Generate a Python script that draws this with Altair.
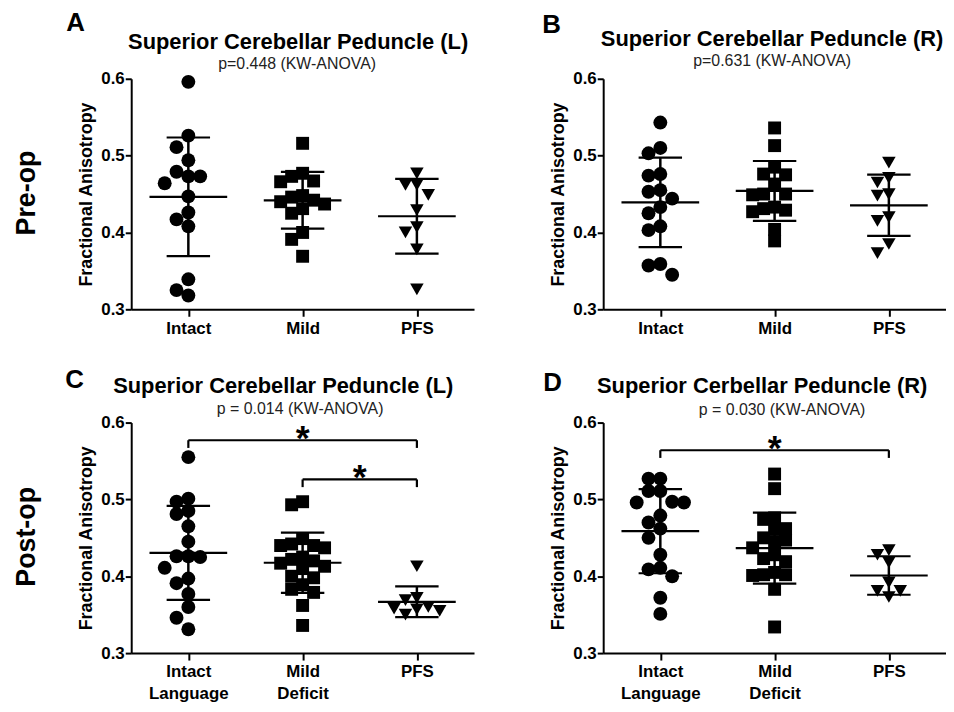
import json
import altair as alt
import pandas as pd

FONT = "Liberation Sans"

# ---------------- data ----------------
PRE_CATEGORIES = ["Intact", "Mild", "PFS"]
POST_CATEGORIES = ["Intact Language", "Mild Deficit", "PFS"]
ROW_LABELS = ["Pre-op", "Post-op"]

pre_L_intact = [0.596, 0.526, 0.511, 0.494, 0.479, 0.473, 0.473, 0.464, 0.447, 0.426, 0.417, 0.408, 0.339, 0.325, 0.318]
pre_L_mild = [0.516, 0.477, 0.473, 0.467, 0.466, 0.448, 0.446, 0.442, 0.440, 0.437, 0.431, 0.425, 0.400, 0.391, 0.369]
pre_L_pfs = [0.477, 0.462, 0.462, 0.449, 0.429, 0.407, 0.400, 0.378, 0.326]

pre_R_intact = [0.543, 0.510, 0.503, 0.476, 0.474, 0.455, 0.453, 0.444, 0.433, 0.425, 0.408, 0.403, 0.359, 0.357, 0.345]
pre_R_mild = [0.536, 0.513, 0.485, 0.476, 0.475, 0.463, 0.450, 0.450, 0.449, 0.433, 0.431, 0.429, 0.427, 0.404, 0.389]
pre_R_pfs = [0.491, 0.471, 0.465, 0.450, 0.448, 0.420, 0.415, 0.385, 0.373]

post_L_intact = [0.555, 0.501, 0.497, 0.485, 0.481, 0.465, 0.445, 0.426, 0.425, 0.426, 0.411, 0.397, 0.391, 0.377, 0.360, 0.346, 0.331]
post_L_mild = [0.497, 0.493, 0.449, 0.442, 0.440, 0.440, 0.437, 0.425, 0.422, 0.420, 0.417, 0.413, 0.410, 0.400, 0.398, 0.389, 0.383, 0.379, 0.362, 0.336]
post_L_pfs = [0.413, 0.372, 0.369, 0.360, 0.358, 0.357, 0.355, 0.350]

post_R_intact = [0.527, 0.527, 0.511, 0.511, 0.497, 0.496, 0.496, 0.479, 0.470, 0.462, 0.450, 0.428, 0.411, 0.409, 0.400, 0.372, 0.351]
post_R_mild = [0.533, 0.514, 0.476, 0.474, 0.462, 0.461, 0.450, 0.447, 0.445, 0.437, 0.428, 0.423, 0.419, 0.405, 0.402, 0.402, 0.401, 0.383, 0.334]
post_R_pfs = [0.434, 0.428, 0.418, 0.392, 0.381, 0.381, 0.373]

TITLES = ["Superior Cerebellar Peduncle (L)", "Superior Cerebellar Peduncle (R)",
          "Superior Cerebellar Peduncle (L)", "Superior Cerbellar Peduncle  (R)"]
SUBTITLES = ["p=0.448 (KW-ANOVA)", "p=0.631 (KW-ANOVA)",
             "p = 0.014 (KW-ANOVA)", "p = 0.030 (KW-ANOVA)"]
LETTERS = ["A", "B", "C", "D"]

# significance brackets: (from group, to group, FA level)
BRACKETS = [[], [], [(0, 2, 0.577), (1, 2, 0.526)], [(0, 2, 0.564)]]

# ---------------- layout / style ----------------
W, H = 345, 232
SHAPES = ["circle", "square", "triangle-down"]
SIZES = {"circle": 196, "square": 169, "triangle-down": 185}
DIAMS = {"circle": 14.0, "square": 13.0, "triangle-down": 13.5}
PX_X = W / 3.0
PX_Y = H / 0.3

# text placement relative to each plot area (pixels); letters use alphabetic baseline
LETTER_POS = [(-56, -48), (-52, -46), (-57, -35), (-51, -32)]
TITLE_POS = [(168, -37), (170, -40), (153, -37), (160, -37)]
SUB_POS = [(167, -15), (170, -18), (170, -14), (180, -13)]
ROW_POS = (-97, 115)


def swarm(values, diam):
    """Greedy beeswarm: horizontal offsets (in category units) limiting overlap."""
    step = diam * 0.85
    mind = diam * 0.85
    order = sorted(range(len(values)), key=lambda i: -values[i])
    placed = []
    offs = [0.0] * len(values)
    cands = [0]
    for j in range(1, 10):
        cands += [-j, j]
    for i in order:
        y = values[i] * PX_Y
        x = 0.0
        for k in cands:
            x = k * step
            if all((x - px) ** 2 + (y - py) ** 2 >= mind ** 2 - 1e-6 for px, py in placed):
                break
        placed.append((x, y))
        offs[i] = x / PX_X
    return offs


def text_layer(text, x, y, size, weight="bold", angle=0, color="black", baseline="middle"):
    return alt.Chart(pd.DataFrame({"t": [text]})).mark_text(
        font=FONT, fontSize=size, fontWeight=weight, angle=angle, color=color,
        align="center", baseline=baseline
    ).encode(text="t:N", x=alt.value(x), y=alt.value(y))


def make_panel(idx, groups, cats):
    rows = []
    for g, vals in enumerate(groups):
        shp = SHAPES[g]
        offs = swarm(vals, DIAMS[shp])
        for v, o in zip(vals, offs):
            rows.append({"g": g, "fa": v, "xpos": g + o, "shape": shp, "sz": SIZES[shp]})
    df = pd.DataFrame(rows)

    labels = [c.split(" ") if " " in c else c for c in cats]
    label_expr = json.dumps(labels) + "[datum.value]"

    xscale = alt.Scale(domain=[-0.5, 2.5], nice=False, zero=False)
    yscale = alt.Scale(domain=[0.3, 0.6], nice=False, zero=False)
    xaxis = alt.Axis(values=[0, 1, 2], labelExpr=label_expr, title=None, grid=False,
                     labelFont=FONT, labelFontSize=17, labelFontWeight="bold", labelColor="black",
                     labelLineHeight=22, labelFlush=False, labelPadding=4,
                     domainColor="black", domainWidth=2, tickColor="black", tickWidth=2, tickSize=7)
    yaxis = alt.Axis(values=[0.3, 0.4, 0.5, 0.6], format=".1f", title="Fractional Anisotropy",
                     grid=False, labelFont=FONT, labelFontSize=17, labelFontWeight="bold",
                     labelColor="black", labelPadding=1, titleFont=FONT, titleFontSize=18,
                     titleFontWeight="bold", titleColor="black", titlePadding=5,
                     domainColor="black", domainWidth=2, tickColor="black", tickWidth=2, tickSize=6)

    def X(f):
        return alt.X(f, scale=xscale, axis=xaxis)

    def Y(f):
        return alt.Y(f, scale=yscale, axis=yaxis)

    base = alt.Chart(df)
    pts = base.mark_point(filled=True, opacity=1, color="black", strokeWidth=0).encode(
        x=X("xpos:Q"), y=Y("fa:Q"),
        shape=alt.Shape("shape:N", scale=None),
        size=alt.Size("sz:Q", scale=None),
    )
    stats = base.transform_aggregate(m="mean(fa)", s="stdev(fa)", groupby=["g"]).transform_calculate(
        lo="datum.m - datum.s", hi="datum.m + datum.s",
        mx1="datum.g - 0.34", mx2="datum.g + 0.34",
        cx1="datum.g - 0.19", cx2="datum.g + 0.19",
    )
    mean_rule = stats.mark_rule(color="black", strokeWidth=2.2).encode(x=X("mx1:Q"), x2="mx2:Q", y=Y("m:Q"))
    sd_rule = stats.mark_rule(color="black", strokeWidth=2.5).encode(x=X("g:Q"), y=Y("lo:Q"), y2="hi:Q")
    cap_hi = stats.mark_rule(color="black", strokeWidth=2.2).encode(x=X("cx1:Q"), x2="cx2:Q", y=Y("hi:Q"))
    cap_lo = stats.mark_rule(color="black", strokeWidth=2.2).encode(x=X("cx1:Q"), x2="cx2:Q", y=Y("lo:Q"))

    layers = [pts, mean_rule, sd_rule, cap_hi, cap_lo]

    if BRACKETS[idx]:
        bdf = pd.DataFrame([{"x1": a, "x2": b, "y": y, "ytip": y - 0.010, "xm": (a + b) / 2}
                            for a, b, y in BRACKETS[idx]])
        bb = alt.Chart(bdf)
        layers += [
            bb.mark_rule(color="black", strokeWidth=2.2).encode(x=X("x1:Q"), x2="x2:Q", y=Y("y:Q")),
            bb.mark_rule(color="black", strokeWidth=2.2).encode(x=X("x1:Q"), y=Y("y:Q"), y2="ytip:Q"),
            bb.mark_rule(color="black", strokeWidth=2.2).encode(x=X("x2:Q"), y=Y("y:Q"), y2="ytip:Q"),
            bb.mark_text(text="*", font=FONT, fontSize=36, fontWeight="bold", color="black",
                         align="center", baseline="alphabetic", dy=10).encode(x=X("xm:Q"), y=Y("y:Q")),
        ]

    lx, ly = LETTER_POS[idx]
    tx, ty = TITLE_POS[idx]
    sx, sy = SUB_POS[idx]
    layers += [
        text_layer(LETTERS[idx], lx, ly, 26, baseline="alphabetic"),
        text_layer(TITLES[idx], tx, ty, 22),
        text_layer(SUBTITLES[idx], sx, sy, 16, weight="normal", color="#222222"),
    ]
    if idx % 2 == 0:
        layers.append(text_layer(ROW_LABELS[idx // 2], ROW_POS[0], ROW_POS[1], 27, angle=270,
                                 baseline="alphabetic"))

    return alt.layer(*layers).properties(width=W, height=H)


panels = [
    make_panel(0, [pre_L_intact, pre_L_mild, pre_L_pfs], PRE_CATEGORIES),
    make_panel(1, [pre_R_intact, pre_R_mild, pre_R_pfs], PRE_CATEGORIES),
    make_panel(2, [post_L_intact, post_L_mild, post_L_pfs], POST_CATEGORIES),
    make_panel(3, [post_R_intact, post_R_mild, post_R_pfs], POST_CATEGORIES),
]

chart = alt.concat(*panels, columns=2, spacing={"row": 114, "column": 130}, bounds="flush").properties(
    padding={"left": 5, "top": 0, "right": 0, "bottom": 0}, background="white"
).configure(font=FONT).configure_view(stroke=None)

chart.save("out.html", embed_options={"renderer": "svg", "actions": False})
